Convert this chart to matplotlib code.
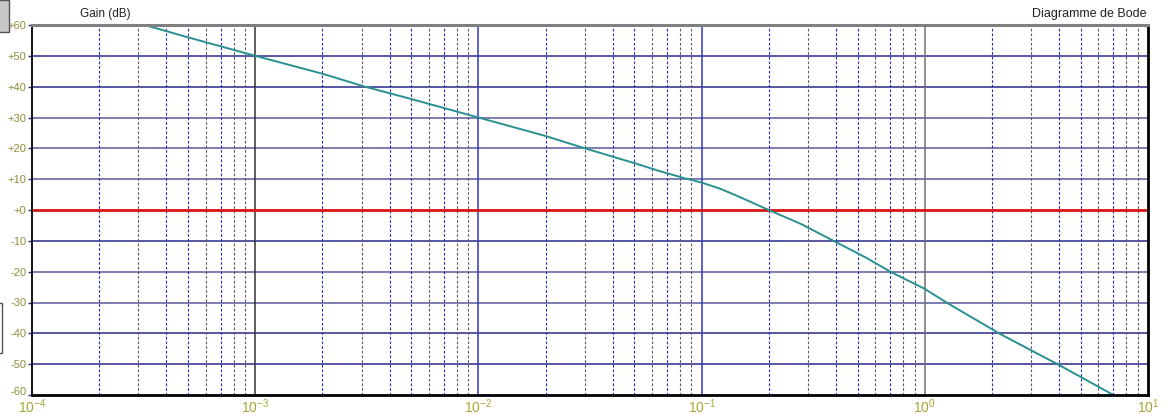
import matplotlib
matplotlib.use("Agg")
import matplotlib.pyplot as plt
import matplotlib.transforms as mtransforms
from matplotlib.patches import Rectangle

# ---- data ----
freq = [3.2e-4, 5e-4, 1e-3, 2e-3, 3.1e-3, 5e-3, 1e-2, 0.02, 0.03, 0.05, 0.065,
        0.083, 0.1, 0.12, 0.14, 0.2, 0.28, 0.39, 0.55, 0.7, 1.0, 1.27, 2.2,
        4.0, 7.0]
gain_db = [60, 56, 50, 44.2, 40, 36, 30, 24, 20, 15.2, 12.6,
           10.4, 8.9, 7.0, 5.0, 0, -4.6, -10, -15.6, -20, -25.6, -30.3, -40.4,
           -50.3, -60]

y_ticks = [60, 50, 40, 30, 20, 10, 0, -10, -20, -30, -40, -50, -60]
y_labels = ["+60", "+50", "+40", "+30", "+20", "+10", "+0",
            "-10", "-20", "-30", "-40", "-50", "-60"]
x_decades = [-4, -3, -2, -1, 0, 1]
x_labels = ["$10^{-4}$", "$10^{-3}$", "$10^{-2}$", "$10^{-1}$", "$10^{0}$", "$10^{1}$"]
title_left = "Gain (dB)"
title_right = "Diagramme de Bode"

plt.rcParams['font.family'] = ['Liberation Sans', 'DejaVu Sans']
plt.rcParams['mathtext.fontset'] = 'custom'
plt.rcParams['mathtext.rm'] = 'Liberation Sans'
plt.rcParams['mathtext.it'] = 'Liberation Sans'
plt.rcParams['mathtext.bf'] = 'Liberation Sans'

W, H = 1169, 416
fig = plt.figure(figsize=(W / 100, H / 100), dpi=100)
fig.patch.set_facecolor("white")
ax = fig.add_axes([32 / W, 21 / H, 1116 / W, 370 / H])
ax.set_xscale("log")
ax.set_xlim(1e-4, 10)
ax.set_ylim(-60, 60)

navy = "#2a2a8a"
light_navy = "#5a5a9c"
blue_dash = "#2828b0"
gray_dash = "#5a5a64"

# horizontal grid lines
light_set = {30, 20, 10, -20, -30}
for v in y_ticks:
    if v in (60, -60):
        continue
    if v == 0:
        ax.axhline(0, color="#d81414", lw=2.0, zorder=3)
    else:
        ax.axhline(v, color=light_navy if v in light_set else navy, lw=1.1, zorder=1)

# minor vertical dashed grid lines
minor_color = {2: blue_dash, 3: gray_dash, 4: blue_dash, 5: blue_dash,
               6: gray_dash, 7: blue_dash, 8: gray_dash, 9: gray_dash}
for d in x_decades[:-1]:
    for m in range(2, 10):
        ax.axvline(m * 10.0 ** d, color=minor_color[m], lw=0.8,
                   linestyle=(0, (2.4, 1.8)), zorder=1)

# major vertical lines
major_color = {-3: "#333333", -2: "#3434c8", -1: "#3434c8", 0: "#707070"}
for d, c in major_color.items():
    ax.axvline(10.0 ** d, color=c, lw=1.1, zorder=1)

# curve
ax.plot(freq, gain_db, color="#2a9090", lw=1.4, zorder=4, clip_on=True)

# spines
for s in ax.spines.values():
    s.set_zorder(5)
ax.spines["top"].set_color("#808080")
ax.spines["top"].set_linewidth(2.2)
ax.spines["left"].set_color("black")
ax.spines["left"].set_linewidth(1.3)
ax.spines["bottom"].set_color("black")
ax.spines["bottom"].set_linewidth(2.0)
ax.spines["right"].set_color("black")
ax.spines["right"].set_linewidth(2.0)

# ticks
ax.set_yticks(y_ticks)
ax.set_yticklabels(y_labels)
ax.set_xticks([10.0 ** d for d in x_decades])
ax.set_xticklabels(x_labels)
ax.minorticks_off()
ax.tick_params(axis="y", length=3, width=1, color=navy, labelsize=8,
               labelcolor="#8e8e3a", pad=1)
ax.tick_params(axis="x", length=0, labelsize=10, labelcolor="#a6a634", pad=2)
# nudge the lowest y label up a little so it clears the first x label
lbl = ax.get_yticklabels()[-1]
lbl.set_transform(lbl.get_transform() +
                  mtransforms.ScaledTranslation(0, 3 / 72, fig.dpi_scale_trans))

# titles
fig.text(105 / W, 1 - 14 / H, title_left, ha="center", va="center",
         fontsize=8.5, color="#222222")
fig.text(1147 / W, 1 - 14 / H, title_right, ha="right", va="center",
         fontsize=9, color="#222222")

# UI artifacts on the left edge
fig.patches.append(Rectangle((-2 / W, 1 - 32 / H), 11 / W, 32 / H,
                             transform=fig.transFigure, facecolor="#c8c8c8",
                             edgecolor="#555555", lw=1))
fig.patches.append(Rectangle((-2 / W, 1 - 353 / H), 4 / W, 50 / H,
                             transform=fig.transFigure, facecolor="none",
                             edgecolor="#555555", lw=1))

fig.savefig("out.png", dpi=100)
